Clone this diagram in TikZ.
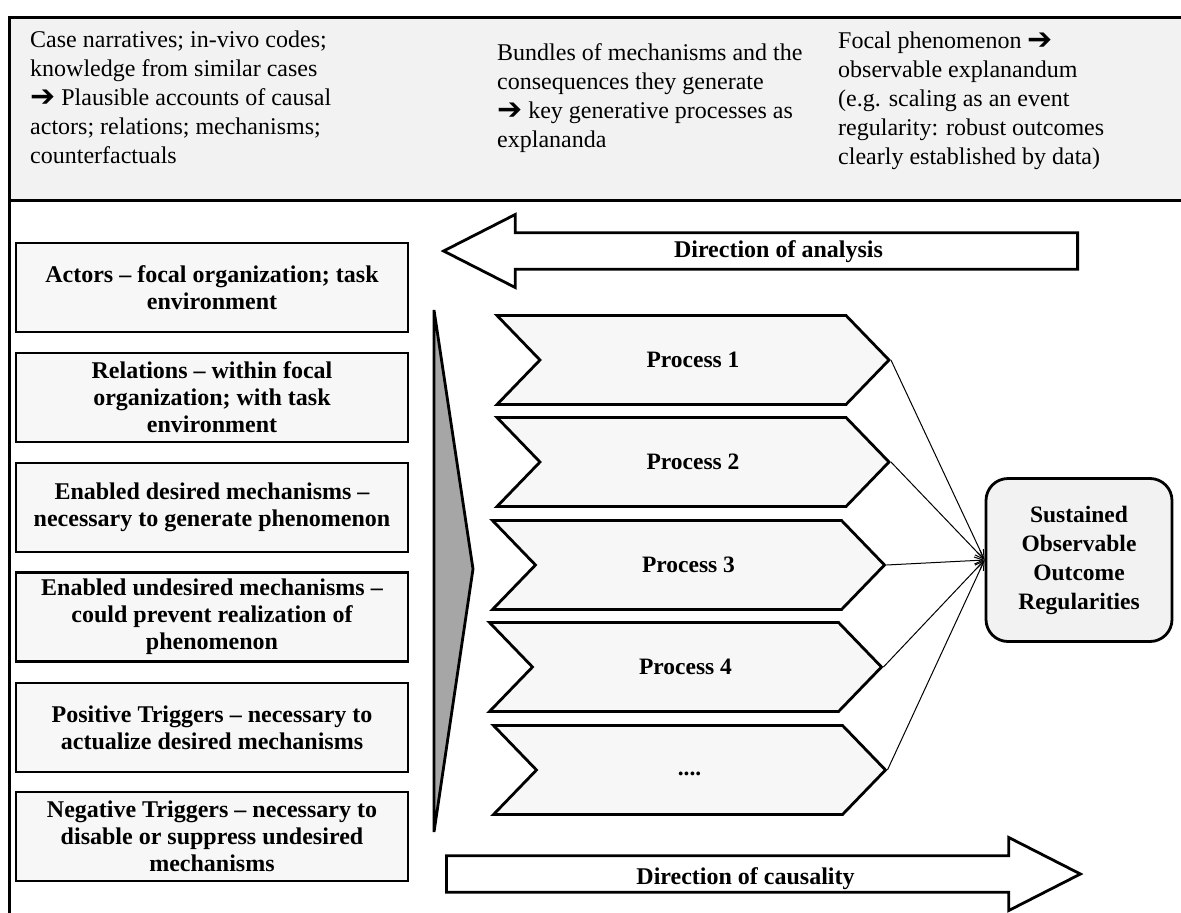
\documentclass[tikz,border=0pt]{standalone}
\usepackage{fontspec}
\setmainfont{Liberation Serif}
\newfontfamily\arrowfont{DejaVu Sans}
\usetikzlibrary{shapes.symbols,shapes.arrows,arrows.meta}

\definecolor{bandgray}{HTML}{F2F2F2}
\definecolor{boxgray}{HTML}{F7F7F7}
\definecolor{wedgegray}{HTML}{A6A6A6}

\newcommand{\rarr}{\raisebox{-1pt}{\arrowfont\fontsize{30}{29}\selectfont ➔}}

\tikzset{
    factorbox/.style={draw, line width=2.8pt, fill=boxgray, minimum width=392pt,
        minimum height=89pt, align=center, inner sep=0pt,
        font=\fontsize{24}{27}\selectfont\bfseries},
    procbox/.style={draw, line width=2.8pt, fill=boxgray, shape=signal,
        signal from=west, signal to=east, signal pointer angle=92,
        minimum width=392pt, minimum height=89pt, inner sep=0pt,
        font=\fontsize{23.5}{28}\selectfont\bfseries},
    dirarrow/.style={draw, line width=2.8pt, fill=white, shape=single arrow,
        single arrow head extend=18pt, single arrow tip angle=54,
        minimum height=634pt, minimum width=73pt, inner sep=0pt,
        font=\fontsize{24}{28}\selectfont\bfseries},
    headtext/.style={anchor=north west, align=left, inner sep=0pt,
        font=\fontsize{24}{29}\selectfont},
    link/.style={line width=1pt, -{Straight Barb[length=9pt,width=7pt]}}
}

\begin{document}
\begin{tikzpicture}[x=1pt, y=-1pt]
    \useasboundingbox (0,0) rectangle (1181,913);

    % header band
    \fill[bandgray] (10,17) rectangle (1190,200);
    \draw[line width=3pt] (1190,17) -- (9,17) -- (9,913);
    \draw[line width=3pt] (9,200) -- (1190,200);
    \node[headtext] (hd1) at (30,31) {Case narratives; in-vivo codes;\\knowledge from similar cases\\\rarr{} Plausible accounts of causal\\actors; relations; mechanisms;\\counterfactuals};
    \node[headtext] (hd2) at (497,43) {Bundles of mechanisms and the\\consequences they generate\\\rarr{} key generative processes as\\explananda};
    \node[headtext] (hd3) at (838,32) {Focal phenomenon \rarr\\observable explanandum\\(e.g. scaling as an event\\regularity: robust outcomes\\clearly established by data)};

    % left column
    \node[factorbox] (actors) at (212,287.5) {Actors – focal organization; task\\environment};
    \node[factorbox] (relations) at (212,397.5) {Relations – within focal\\organization; with task\\environment};
    \node[factorbox] (desired) at (212,507.5) {Enabled desired mechanisms –\\necessary to generate phenomenon};
    \node[factorbox] (undesired) at (212,617) {Enabled undesired mechanisms –\\could prevent realization of\\phenomenon};
    \node[factorbox] (postrig) at (212,727.5) {Positive Triggers – necessary to\\actualize desired mechanisms};
    \node[factorbox] (negtrig) at (212,836.5) {Negative Triggers – necessary to\\disable or suppress undesired\\mechanisms};

    % wedge
    \filldraw[fill=wedgegray, line width=2.8pt, line join=miter]
        (434,310) -- (473,569) -- (434,832) -- cycle;

    % processes
    \node[procbox] (p1) at (693,360) {Process 1};
    \node[procbox] (p2) at (693,462) {Process 2};
    \node[procbox] (p3) at (688.5,565) {Process 3};
    \node[procbox] (p4) at (685.5,667) {Process 4};
    \node[procbox] (p5) at (689.5,770) {\strut....};

    \node[draw, line width=2.8pt, fill=bandgray, rounded corners=22pt,
        minimum width=186pt, minimum height=163pt, align=center, inner sep=0pt,
        font=\fontsize{23.5}{29}\selectfont\bfseries] (outcome) at (1079,560)
        {Sustained\\Observable\\Outcome\\Regularities};

    \foreach \p in {p1,p2,p3,p4,p5}
        \draw[link] (\p.east) -- (outcome.west);

    % direction arrows
    \node[dirarrow, anchor=tail, shape border rotate=180, text height=22.5pt, text depth=10.5pt] (analysis) at (1079,251) {Direction of analysis};
    \node[dirarrow, anchor=tail, text height=26.5pt, text depth=6.5pt] (causality) at (445,874) {Direction of causality};
\end{tikzpicture}
\end{document}
